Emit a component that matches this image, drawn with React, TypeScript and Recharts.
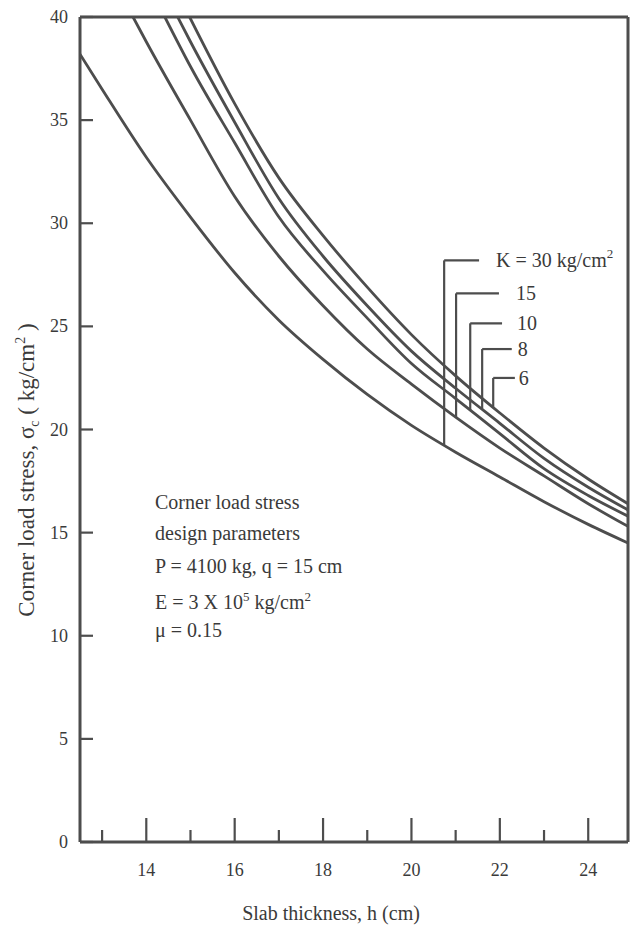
import { LineChart, Line, XAxis, YAxis, ReferenceLine } from 'recharts';

// slab thickness h (cm) and corner stress (kg/cm2) per subgrade modulus K
const H_K30 = [12.5, 13, 14, 15, 16, 17, 18, 19, 20, 21, 22, 23, 24, 24.9];
const S_K30 = [38.2, 36.5, 33.2, 30.3, 27.6, 25.3, 23.4, 21.7, 20.2, 18.9, 17.7, 16.5, 15.4, 14.5];

const H_K15 = [13.7, 14, 15, 16, 17, 18, 19, 20, 21, 22, 23, 24, 24.9];
const S_K15 = [40, 38.8, 35.0, 31.3, 28.4, 26.0, 23.9, 22.2, 20.6, 19.1, 17.75, 16.4, 15.3];

const H_K10 = [14.42, 15, 16, 17, 18, 19, 20, 21, 22, 23, 24, 24.9];
const S_K10 = [40, 37.6, 33.9, 30.3, 27.7, 25.4, 23.2, 21.5, 19.8, 18.1, 16.8, 15.8];

const H_K8 = [14.71, 15, 16, 17, 18, 19, 20, 21, 22, 23, 24, 24.9];
const S_K8 = [40, 38.8, 34.9, 31.2, 28.4, 26.0, 23.8, 22.0, 20.3, 18.6, 17.2, 16.1];

const H_K6 = [14.98, 16, 17, 18, 19, 20, 21, 22, 23, 24, 24.9];
const S_K6 = [40, 35.8, 32.2, 29.4, 26.9, 24.6, 22.6, 20.8, 19.1, 17.6, 16.4];

const X_TICKS = [13, 14, 15, 16, 17, 18, 19, 20, 21, 22, 23, 24];
const Y_TICKS = [0, 5, 10, 15, 20, 25, 30, 35, 40];

// leader lines for the K labels (data units)
const LEADER_LABELS = ['K = 30 kg/cm', '15', '10', '8', '6'];
const LEADER_H = [20.74, 21.01, 21.33, 21.6, 21.85];
const LEADER_TOP = [28.2, 26.6, 25.15, 23.9, 22.5];
const LEADER_BOTTOM = [19.2, 20.6, 20.95, 21.0, 21.1];
const LEADER_END_H = [21.53, 21.98, 22.05, 22.27, 22.34];
const LABEL_GAP = [17, 17, 15, 6, 4];

const INK = '#4d4d4d';
const TEXT = '#3a3a3a';
const FONT = '"Liberation Serif", "DejaVu Serif", serif';

const toPoints = (h: number[], s: number[]) => h.map((v, i) => ({ h: v, s: s[i] }));

const SERIES = [
  { name: 'K30', data: toPoints(H_K30, S_K30) },
  { name: 'K15', data: toPoints(H_K15, S_K15) },
  { name: 'K10', data: toPoints(H_K10, S_K10) },
  { name: 'K8', data: toPoints(H_K8, S_K8) },
  { name: 'K6', data: toPoints(H_K6, S_K6) },
];

const XTick = ({ x, y, payload }: any) => {
  const v = payload.value;
  const major = v % 2 === 0;
  return (
    <g>
      <line x1={x} y1={y} x2={x} y2={y - (major ? 24 : 12)} stroke={INK} strokeWidth={2.2} />
      {major && (
        <text x={x} y={y + 34} textAnchor="middle" fontSize={18} fontFamily={FONT} fill={TEXT}>
          {v}
        </text>
      )}
    </g>
  );
};

const YTick = ({ x, y, payload }: any) => (
  <g>
    <line x1={x} y1={y} x2={x + 13} y2={y} stroke={INK} strokeWidth={2.2} />
    <text x={x - 12} y={y + 6} textAnchor="end" fontSize={18} fontFamily={FONT} fill={TEXT}>
      {payload.value}
    </text>
  </g>
);

const SideLabel = ({ viewBox, text, first, gap }: any) => {
  if (!viewBox) return null;
  const x = viewBox.x + viewBox.width + gap;
  const y = viewBox.y + 7;
  return (
    <text x={x} y={y} fontSize={20} fontFamily={FONT} fill={TEXT}>
      {text}
      {first && (
        <tspan dy={-9} fontSize={13}>
          2
        </tspan>
      )}
    </text>
  );
};

const textLine = (top: number, content: any) => (
  <div style={{ position: 'absolute', left: 155, top, fontSize: 20, lineHeight: '22px', color: TEXT, whiteSpace: 'nowrap' }}>
    {content}
  </div>
);

export default function App() {
  return (
    <div style={{ position: 'absolute', left: 0, top: 0, width: 636, height: 933, background: '#fff', fontFamily: FONT, overflow: 'hidden' }}>
      <LineChart width={636} height={933} margin={{ top: 17, right: 8, bottom: 0, left: 0 }}>
        <XAxis
          dataKey="h"
          type="number"
          domain={[12.5, 24.9]}
          allowDataOverflow
          ticks={X_TICKS}
          interval={0}
          height={91}
          tickSize={0}
          tickMargin={0}
          tickLine={false}
          axisLine={{ stroke: INK, strokeWidth: 3 }}
          tick={<XTick />}
        />
        <YAxis
          dataKey="s"
          type="number"
          domain={[0, 40]}
          allowDataOverflow
          ticks={Y_TICKS}
          interval={0}
          width={80}
          tickSize={0}
          tickMargin={0}
          tickLine={false}
          axisLine={{ stroke: INK, strokeWidth: 3 }}
          tick={<YTick />}
        />
        <ReferenceLine y={40} stroke={INK} strokeWidth={3} />
        <ReferenceLine x={24.9} stroke={INK} strokeWidth={3} />
        {SERIES.map((s) => (
          <Line
            key={s.name}
            data={s.data}
            dataKey="s"
            type="monotone"
            stroke={INK}
            strokeWidth={2.8}
            dot={false}
            isAnimationActive={false}
          />
        ))}
        {LEADER_H.map((h, i) => (
          <ReferenceLine
            key={`v-${i}`}
            segment={[
              { x: h, y: LEADER_BOTTOM[i] },
              { x: h, y: LEADER_TOP[i] },
            ]}
            stroke={INK}
            strokeWidth={2.2}
          />
        ))}
        {LEADER_H.map((h, i) => (
          <ReferenceLine
            key={`h-${i}`}
            segment={[
              { x: h, y: LEADER_TOP[i] },
              { x: LEADER_END_H[i], y: LEADER_TOP[i] },
            ]}
            stroke={INK}
            strokeWidth={2.2}
            label={<SideLabel text={LEADER_LABELS[i]} first={i === 0} gap={LABEL_GAP[i]} />}
          />
        ))}
      </LineChart>

      {textLine(491, 'Corner load stress')}
      {textLine(522, 'design parameters')}
      {textLine(555, 'P = 4100 kg, q = 15 cm')}
      {textLine(586, <span>E = 3 X 10<sup style={{ fontSize: 13 }}>5</sup> kg/cm<sup style={{ fontSize: 13 }}>2</sup></span>)}
      {textLine(619, '\u03bc = 0.15')}

      <div
        style={{
          position: 'absolute',
          left: 28,
          top: 470,
          transform: 'translate(-50%, -50%) rotate(-90deg)',
          fontSize: 23,
          color: TEXT,
          whiteSpace: 'nowrap',
        }}
      >
        Corner load stress, {'\u03c3'}
        <sub style={{ fontSize: 14 }}>c</sub> ( kg/cm<sup style={{ fontSize: 14 }}>2</sup> )
      </div>

      <div
        style={{
          position: 'absolute',
          left: 331,
          top: 913,
          transform: 'translate(-50%, -50%)',
          fontSize: 20,
          color: TEXT,
          whiteSpace: 'nowrap',
        }}
      >
        Slab thickness, h (cm)
      </div>
    </div>
  );
}
